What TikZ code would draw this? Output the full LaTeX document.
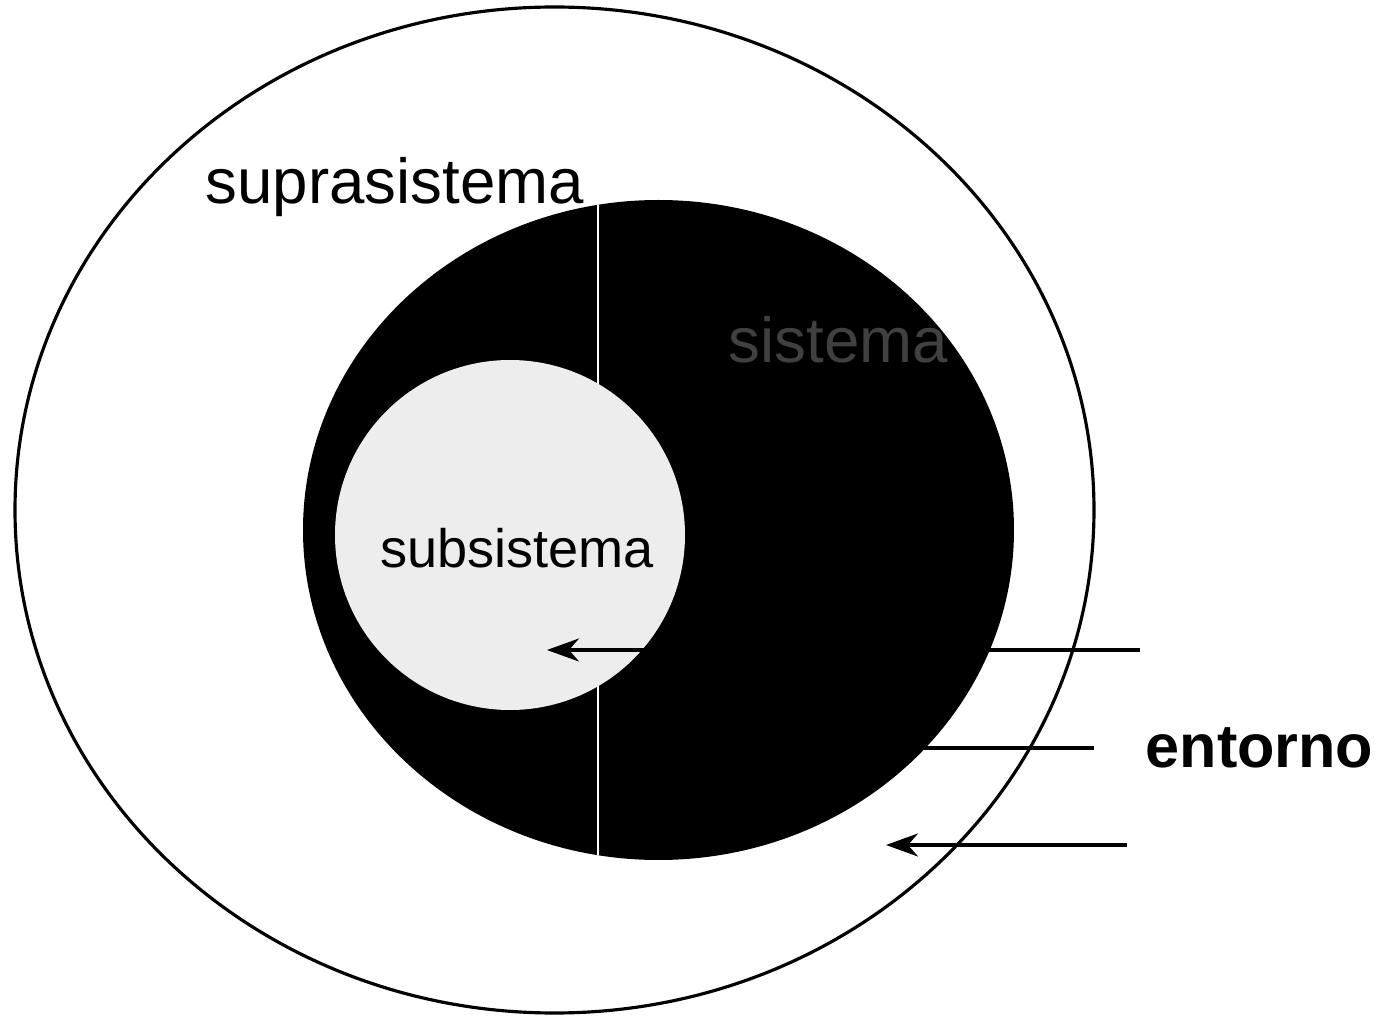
\documentclass[tikz,border=0pt]{standalone}
\usepackage{fontspec}
\setmainfont{Liberation Sans}
\usetikzlibrary{arrows.meta, positioning, shapes.geometric}

\begin{document}
\begin{tikzpicture}[
  supra/.style={ellipse, draw, line width=0.9pt, fill=white, inner sep=0pt, minimum width=10.79cm, minimum height=10.06cm},
  sysblob/.style={ellipse, fill=black, inner sep=0pt, minimum width=7.11cm, minimum height=6.6cm},
  subblob/.style={circle, fill=gray!14, inner sep=0pt, minimum size=3.5cm},
  bigtext/.style={font=\fontsize{18.1}{20}\selectfont, inner sep=0pt},
  flow/.style={-{Stealth[length=3.2mm, width=2.3mm, inset=1mm]}, line width=0.9pt}
]
  \useasboundingbox (0,0) rectangle (13.87,10.18);
  \node[supra]   (supra) at (5.545,5.08) {};
  \node[sysblob] (sys)   at (6.585,4.88) {};
  % seam through the black fill
  \begin{scope}
    \clip (6.585,4.88) ellipse (3.555 and 3.3);
    \draw[white, line width=0.6pt] (5.98,0) -- (5.98,10.18);
  \end{scope}
  \node[subblob] (sub) at (5.10,4.83) {};
  \node[bigtext, anchor=base west] (supralbl) at (2.05,8.15) {suprasistema};
  \node[bigtext, anchor=base west, text=black!75] (syslbl) at (7.28,6.55) {sistema};
  \node[font=\fontsize{15.4}{17}\selectfont, inner sep=0pt, anchor=base] (sublbl) at (5.17,4.50) {subsistema};
  \node[font=\fontsize{17.4}{20}\selectfont\bfseries, inner sep=0pt, anchor=base west] (envlbl) at (11.45,2.50) {entorno};
  % arrows from the environment
  \coordinate (out1) at (11.40,3.68);
  \coordinate (in1)  at (5.47,3.68);
  \coordinate (out2) at (10.94,2.70);
  \coordinate (in2)  at (8.35,2.70);
  \coordinate (out3) at (11.27,1.73);
  \coordinate (in3)  at (8.86,1.73);
  \draw[flow] (out1) -- (in1);
  \draw[flow] (out2) -- (in2);
  \draw[flow] (out3) -- (in3);
\end{tikzpicture}
\end{document}
